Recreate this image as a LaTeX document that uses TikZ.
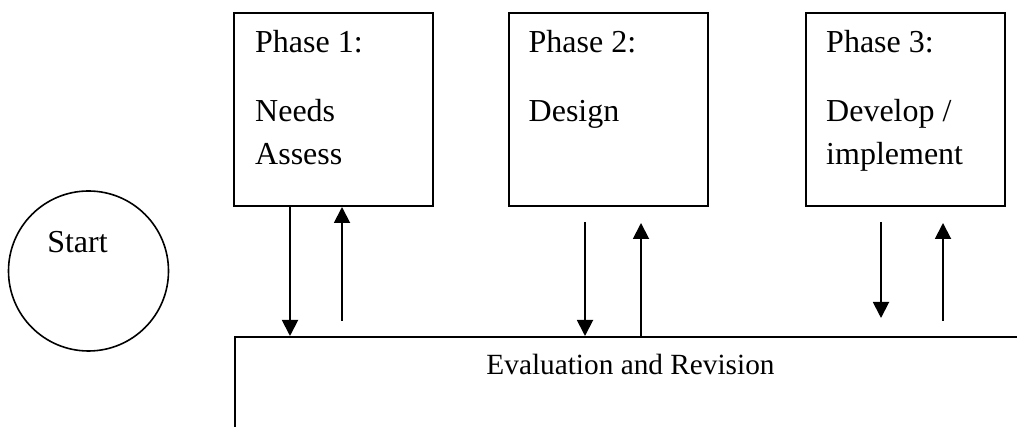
\documentclass[tikz,border=0pt]{standalone}
\usepackage{fontspec}
\setmainfont{Liberation Serif}
\usetikzlibrary{arrows.meta,positioning}

\begin{document}
\begin{tikzpicture}[x=1pt,y=1pt,
    phase/.style={draw,line width=2pt,minimum width=199pt,minimum height=193pt,inner sep=0pt},
    phasetext/.style={inner sep=0pt,align=left,font=\fontsize{32}{43}\selectfont},
    flow/.style={draw,line width=1.9pt,-{Triangle[width=16pt,length=16pt]}}]

      \useasboundingbox (0,0) rectangle (1017,427);

      \node[circle,draw,line width=1.6pt,minimum size=160pt,inner sep=0pt] (start) at (88.5,156) {};
      \node[font=\fontsize{32}{38}\selectfont,anchor=base] (starttext) at (77.5,174) {Start};

      \begin{scope}[every node/.style={phase}]
        \node (p1) at (333.5,317.5) {};
        \node (p2) at (608,317.5)   {};
        \node (p3) at (905.5,317.5) {};
      \end{scope}

      \begin{scope}[every node/.style={phasetext}]
        \node (t1) [below right=18.5pt and 22pt of p1.north west]   {Phase 1:\\[26pt]Needs\\Assess};
        \node (t2) [below right=18.5pt and 21pt of p2.north west]   {Phase 2:\\[26pt]Design};
        \node (t3) [below right=18.5pt and 21pt of p3.north west]   {Phase 3:\\[26pt]Develop /\\implement};
      \end{scope}

      \node[draw,line width=2pt,anchor=north west,minimum width=900pt,minimum height=200pt] (eval) at (234,91) {};
      \node[font=\fontsize{29.3}{35}\selectfont,anchor=base] (evaltext) at (630.5,52) {Evaluation and Revision};

      % free ends of the arrows
      \coordinate (d1) at ([xshift=57pt]p1.south west);
      \coordinate (u1) at (342,106);
      \coordinate (d2) at (585,205);
      \coordinate (u2) at (641,204);
      \coordinate (d3) at (881,205);
      \coordinate (d3e) at (881,109);
      \coordinate (u3) at (943,106);
      \coordinate (u3e) at (943,204);

      \begin{scope}[every edge/.style={flow}]
        \path (d1) edge (d1 |- eval.north);
        \path (u1) edge (u1 |- p1.south);
        \path (d2) edge (d2 |- eval.north);
        \path (u2 |- eval.north) edge (u2);
        \path (d3) edge (d3e);
        \path (u3) edge (u3e);
      \end{scope}

    \end{tikzpicture}
\end{document}
